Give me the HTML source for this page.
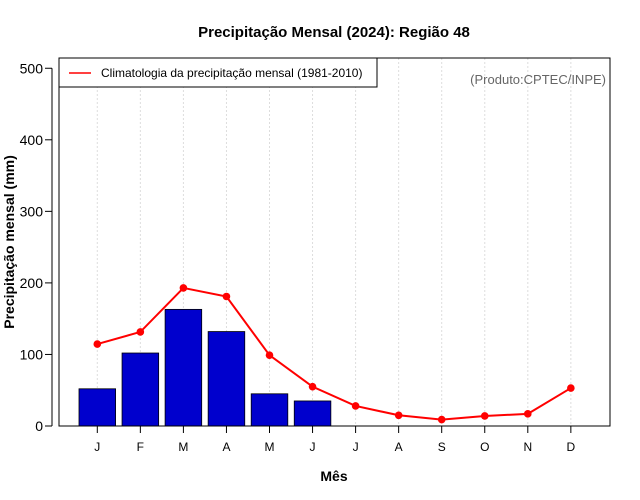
<!DOCTYPE html>
<html><head><meta charset="utf-8">
<style>
html,body{margin:0;padding:0;background:#fff;}
svg{display:block;font-family:"Liberation Sans",Arial,sans-serif;}
</style></head>
<body>
<svg id="chart" width="640" height="500" viewBox="0 0 640 500">
  <text x="334" y="37" text-anchor="middle" font-size="15" font-weight="bold">Precipitação Mensal (2024): Região 48</text>
  <g id="grid"></g>
  <g id="bars"></g>
  <g id="line"></g>
  <rect x="59" y="58" width="551" height="368" fill="none" stroke="#000" stroke-width="1"/>
  <g id="yaxis"></g>
  <g id="xaxis"></g>
  <text transform="translate(14,242) rotate(-90)" text-anchor="middle" font-size="14" font-weight="bold">Precipitação mensal (mm)</text>
  <text x="334" y="481" text-anchor="middle" font-size="14" font-weight="bold">Mês</text>
  <g>
    <rect x="59" y="58" width="318" height="29" fill="#fff" stroke="#000" stroke-width="1"/>
    <line x1="69" y1="73" x2="91" y2="73" stroke="#ff0000" stroke-width="1.5"/>
    <text x="101" y="77" font-size="12">Climatologia da precipitação mensal (1981-2010)</text>
  </g>
  <text x="606" y="84" text-anchor="end" font-size="13" fill="#666">(Produto:CPTEC/INPE)</text>
</svg>
<script>
const months = ["J","F","M","A","M","J","J","A","S","O","N","D"];
const observed = [52, 102, 163, 132, 45, 35];
const climatology = [114.5, 131.5, 193, 181, 99, 55, 28, 15, 9, 14, 17, 53];
const yTicks = [0, 100, 200, 300, 400, 500];

const NS = "http://www.w3.org/2000/svg";
const x = i => 97.3 + i * 43.05;
const y = v => 426 - v * 0.7155;
function mk(tag, attrs, parent){
  const e = document.createElementNS(NS, tag);
  for (const k in attrs) e.setAttribute(k, attrs[k]);
  parent.appendChild(e);
  return e;
}
const grid = document.getElementById("grid");
const bars = document.getElementById("bars");
const lineG = document.getElementById("line");
const yaxis = document.getElementById("yaxis");
const xaxis = document.getElementById("xaxis");

months.forEach((m, i) => {
  const g = mk("line", {x1:x(i), x2:x(i), y1:58, y2:426, stroke:"#ddd", "stroke-dasharray":"2,2", "stroke-width":1}, grid);
  
  
  const t = mk("line", {x1:x(i), x2:x(i), y1:426, y2:433, stroke:"#000"}, xaxis);
  
  
  const l = mk("text", {x:x(i), y:451, "text-anchor":"middle", "font-size":12}, xaxis);
  l.textContent = m;
  
  
});

observed.forEach((v, i) => {
  const b = mk("rect", {x:x(i)-18.3, y:y(v), width:36.6, height:426-y(v), fill:"#0000cd", stroke:"#000", "stroke-width":0.8}, bars);
  
  
});

const pts = climatology.map((v, i) => x(i) + "," + y(v)).join(" ");
const pl = mk("polyline", {points:pts, fill:"none", stroke:"#ff0000", "stroke-width":2}, lineG);


climatology.forEach((v, i) => {
  const c = mk("circle", {cx:x(i), cy:y(v), r:3.8, fill:"#ff0000"}, lineG);
  
  
});

mk("line", {x1:52, x2:52, y1:y(0), y2:y(500), stroke:"#000"}, yaxis);
yTicks.forEach(v => {
  const t = mk("line", {x1:45, x2:52, y1:y(v), y2:y(v), stroke:"#000"}, yaxis);
  
  
  const l = mk("text", {x:43, y:y(v)+5, "text-anchor":"end", "font-size":14}, yaxis);
  l.textContent = v;
  
  
});
</script>
</body></html>
